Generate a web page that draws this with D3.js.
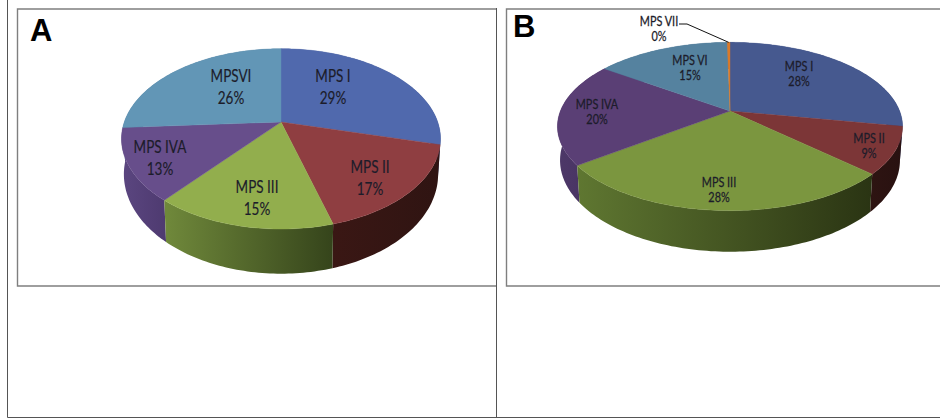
<!DOCTYPE html>
<html>
<head>
<meta charset="utf-8">
<script src="https://cdn.jsdelivr.net/npm/d3@7"></script>
<style>
html,body{margin:0;padding:0;background:#fff;}
svg{display:block;}
text{font-family:Lato,"Open Sans",sans-serif;}
</style>
</head>
<body>
<svg id="c" width="940" height="418"></svg>
<script>
// ---- data
const categoriesA = ["MPS I", "MPS II", "MPS III", "MPS IVA", "MPSVI"];
const valuesA = [29, 16.6, 15.4, 13, 26];
const categoriesB = ["MPS I", "MPS II", "MPS III", "MPS IVA", "MPS VI", "MPS VII"];
const valuesB = [28, 9, 28, 20, 15, 0.3];
const percentLabelsA = ["29%", "17%", "15%", "13%", "26%"];
const percentLabelsB = ["28%", "9%", "28%", "20%", "15%", "0%"];

// ---- styles
const topColorsA = ["#5069ad", "#8f3e41", "#92ae4d", "#674e8b", "#6296b6"];
const topColorsB = ["#46598f", "#7c3637", "#7b963f", "#5a3f75", "#55829f", "#d97a2a"];
const wallStopsA = [["#4a5f9c","#3a4c80"],["#3a1714","#2f1412"],["#70893b","#35441b"],["#5b4680","#4e3a70"],["#4f7c98","#4f7c98"]];
const wallStopsB = [["#3d4f80","#334270"],["#2e1412","#281110"],["#5f7731","#2a3413"],["#4d3868","#453060"],["#456f8a","#456f8a"],["#b8661f","#b8661f"]];

// ---- layout
const panelA = {
  id:"A", categories:categoriesA, values:valuesA, pct:percentLabelsA,
  top:topColorsA, walls:wallStopsA,
  cx:281, cy:122, A:156.7, B:87, k:0.187, s:0.985, y0b:155.6, Bb:96, fs:16.5, sx:0.82, bold:0.15,
  labels:[[333,76],[370,167],[257,187],[160,147],[231,76]], gap:22,
  letter:[30,41]
};
const panelB = {
  id:"B", categories:categoriesB, values:valuesB, pct:percentLabelsB,
  top:topColorsB, walls:wallStopsB,
  cx:730, cy:111, A:169.6, B:81.3, k:0.184, s:0.985, y0b:143.5, Bb:88.3, fs:12.5, sx:0.87, bold:0.25,
  labels:[[799,66],[869,138],[719,182],[597,104],[690,60],[659,21]], gap:15.5,
  letter:[513,37]
};

const svg = d3.select("#c");
const defs = svg.append("defs");
const frame = svg.append("g");
const stroke = "#7f7f7f";

// outer table rules
frame.append("path").attr("d","M7.5,0V417.5H940").attr("fill","none").attr("stroke","#555").attr("stroke-width",1);
frame.append("path").attr("d","M496.5,8V417").attr("fill","none").attr("stroke","#555").attr("stroke-width",1);
// chart frames
frame.append("path").attr("d","M496,9H17.5V286H496").attr("fill","none").attr("stroke",stroke).attr("stroke-width",1.4);
frame.append("path").attr("d","M940,9H506.5V286H940").attr("fill","none").attr("stroke",stroke).attr("stroke-width",1.4);

function drawPanel(p){
  const g = svg.append("g");
  const pie = d3.pie().sort(null).startAngle(0).endAngle(2*Math.PI);
  const arcs = pie(p.values);
  const xTop = d3.scaleLinear().domain([-1,1]).range([p.cx-p.A, p.cx+p.A]);
  const yTop = d3.scaleLinear().domain([0,1]).range([p.cy, p.cy+p.B]);
  const xBot = d3.scaleLinear().domain([-1,1]).range([p.cx-p.A*p.s, p.cx+p.A*p.s]);
  const yBot = d3.scaleLinear().domain([0,1]).range([p.y0b, p.y0b+p.Bb]);
  const proj = (t,xs,ys)=>{
    const u=Math.sin(t), v=-Math.cos(t), w=1-p.k*v;
    return [xs(u/w), ys(v/w)];
  };
  const rim = (a0,a1,xs,ys)=>{
    const n=Math.max(2,Math.ceil((a1-a0)/0.02));
    return d3.range(n+1).map(i=>proj(a0+(a1-a0)*i/n,xs,ys));
  };
  const line = d3.line();
  // walls: back slices first
  const order = arcs.map((d,i)=>({d,i,mv:-Math.cos((d.startAngle+d.endAngle)/2)})).sort((a,b)=>a.mv-b.mv);
  order.forEach(o=>{
    const pts = rim(o.d.startAngle,o.d.endAngle,xTop,yTop)
      .concat(rim(o.d.startAngle,o.d.endAngle,xBot,yBot).reverse());
    const xs = pts.map(q=>q[0]);
    const id = "w"+p.id+o.i;
    const lg = defs.append("linearGradient").attr("id",id).attr("gradientUnits","userSpaceOnUse")
      .attr("x1",d3.min(xs)).attr("x2",d3.max(xs)).attr("y1",0).attr("y2",0);
    lg.append("stop").attr("offset",0).attr("stop-color",p.walls[o.i][0]);
    lg.append("stop").attr("offset",1).attr("stop-color",p.walls[o.i][1]);
    g.append("path").attr("d",line(pts)+"Z").attr("fill",`url(#${id})`);
  });
  // top faces
  arcs.forEach((d,i)=>{
    const pts=[[p.cx,p.cy]].concat(rim(d.startAngle,d.endAngle,xTop,yTop));
    g.append("path").attr("d",line(pts)+"Z").attr("fill",p.top[i])
      .attr("stroke",p.top[i]).attr("stroke-width",0.4);
  });
  // labels
  p.categories.forEach((c,i)=>{
    const [x,y]=p.labels[i];
    const t=g.append("g").attr("text-anchor","middle").attr("font-size",p.fs)
      .attr("fill","#1c1c2a").attr("stroke","#1c1c2a").attr("stroke-width",p.bold);
    t.append("text").attr("transform",`translate(${x},${y}) scale(${p.sx},1)`).attr("dy","0.36em").text(c);
    t.append("text").attr("transform",`translate(${x},${y+p.gap}) scale(${p.sx},1)`).attr("dy","0.36em").text(p.pct[i]);
  });
  // panel letter
  g.append("text").attr("x",p.letter[0]).attr("y",p.letter[1]).attr("font-size",31)
    .attr("font-weight","bold").style("font-family","'Liberation Sans',Arial,sans-serif").attr("fill","#000").text(p.id);
  return {arcs,proj,xTop,yTop};
}

drawPanel(panelA);
const rb = drawPanel(panelB);
// leader line to the MPS VII sliver
const sl = rb.arcs[5];
const tip = rb.proj((sl.startAngle+sl.endAngle)/2, rb.xTop, rb.yTop);
svg.append("path").attr("d",d3.line()([[679,24],[687,24],tip])).attr("fill","none").attr("stroke","#111").attr("stroke-width",1);
</script>
</body>
</html>
